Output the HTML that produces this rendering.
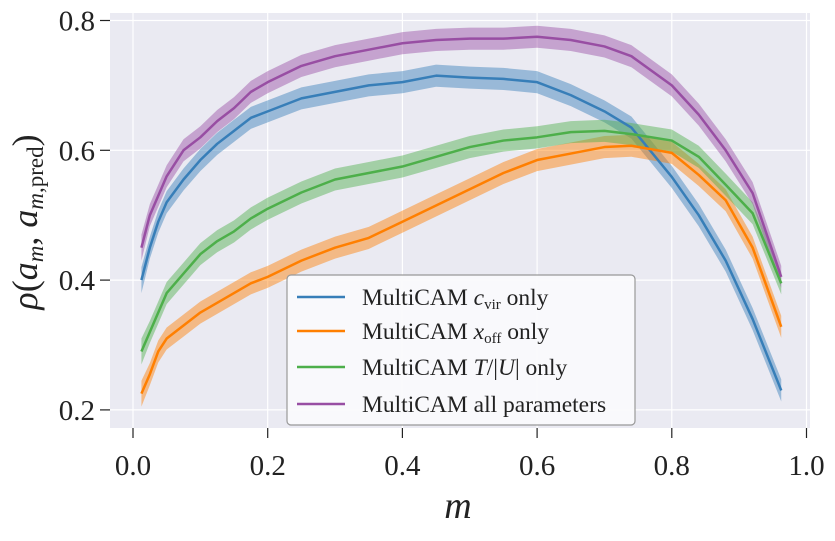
<!DOCTYPE html>
<html><head><meta charset="utf-8"><style>
html,body{margin:0;padding:0;background:#fff;}
svg text{font-family:"Liberation Serif","DejaVu Serif",serif;fill:#222;}
</style></head><body>
<svg id="chart" width="835" height="536" xmlns="http://www.w3.org/2000/svg">
<rect x="110" y="13" width="700" height="415" fill="#eaeaf2"/>
<g id="grid"></g>
<g id="bands"></g>
<g id="lines"></g>
<g id="axes"></g>
<text x="458" y="518" font-size="38" font-style="italic" text-anchor="middle">m</text>
<text transform="translate(37,222) rotate(-90)" font-size="36" text-anchor="middle"><tspan font-style="italic">ρ</tspan>(<tspan font-style="italic">a</tspan><tspan font-size="23" font-style="italic" dy="6">m</tspan><tspan dy="-6">, </tspan><tspan font-style="italic">a</tspan><tspan font-size="23" dy="6"><tspan font-style="italic">m</tspan>,pred</tspan><tspan dy="-6">)</tspan></text>
<g>
<rect x="287" y="275" width="348" height="150" rx="4" fill="#fafafc" fill-opacity="0.95" stroke="#999" stroke-width="1.2"/>
<line x1="297" y1="297" x2="345" y2="297" stroke="#377eb8" stroke-width="2.5"/>
<text x="362" y="305" font-size="23.5">MultiCAM <tspan font-style="italic">c</tspan><tspan font-size="15" dy="4">vir</tspan><tspan dy="-4"> only</tspan></text>
<line x1="297" y1="331" x2="345" y2="331" stroke="#ff7f00" stroke-width="2.5"/>
<text x="362" y="339" font-size="23.5">MultiCAM <tspan font-style="italic">x</tspan><tspan font-size="15" dy="4">off</tspan><tspan dy="-4"> only</tspan></text>
<line x1="297" y1="367" x2="345" y2="367" stroke="#4daf4a" stroke-width="2.5"/>
<text x="362" y="375" font-size="23.5">MultiCAM <tspan font-style="italic">T</tspan>/|<tspan font-style="italic">U</tspan>| only</text>
<line x1="297" y1="404" x2="345" y2="404" stroke="#984ea3" stroke-width="2.5"/>
<text x="362" y="412" font-size="23.5">MultiCAM all parameters</text>
</g>
</svg>
<script>
const mValues=[0.0125,0.025,0.0375,0.05,0.075,0.1,0.125,0.15,0.175,0.2,0.25,0.3,0.35,0.4,0.45,0.5,0.55,0.6,0.65,0.7,0.74,0.8,0.84,0.88,0.92,0.9625];
const cvirOnly=[0.40,0.45,0.49,0.52,0.555,0.585,0.61,0.63,0.65,0.66,0.68,0.69,0.70,0.705,0.715,0.712,0.71,0.705,0.685,0.66,0.635,0.559,0.5,0.43,0.34,0.23];
const xoffOnly=[0.225,0.255,0.29,0.31,0.33,0.35,0.365,0.38,0.395,0.405,0.43,0.45,0.465,0.49,0.515,0.54,0.565,0.585,0.595,0.605,0.607,0.596,0.562,0.523,0.45,0.328];
const tuOnly=[0.29,0.32,0.35,0.38,0.41,0.44,0.46,0.475,0.495,0.51,0.535,0.555,0.565,0.575,0.59,0.605,0.615,0.62,0.628,0.63,0.625,0.615,0.59,0.547,0.503,0.395];
const allParams=[0.45,0.5,0.53,0.56,0.6,0.62,0.645,0.665,0.69,0.705,0.73,0.745,0.755,0.765,0.77,0.772,0.772,0.775,0.77,0.76,0.745,0.70,0.655,0.6,0.534,0.405];
const bandHalfWidth=[0.02,0.017,0.017,0.017,0.017,0.017,0.017,0.017,0.017,0.017,0.017,0.017,0.017,0.017,0.017,0.017,0.017,0.017,0.017,0.017,0.017,0.017,0.017,0.017,0.017,0.017];
const xTicks=[0,0.2,0.4,0.6,0.8,1.0];
const xTickLabels=["0.0","0.2","0.4","0.6","0.8","1.0"];
const yTicks=[0.2,0.4,0.6,0.8];
const yTickLabels=["0.2","0.4","0.6","0.8"];
const NS="http://www.w3.org/2000/svg";
const X=v=>133+v*673.5;
const Y=v=>20.5+(0.8-v)*649;
function mk(tag,attrs,parent){const e=document.createElementNS(NS,tag);for(const k in attrs)e.setAttribute(k,attrs[k]);parent.appendChild(e);return e;}
const grid=document.getElementById('grid'),axes=document.getElementById('axes');
xTicks.forEach((t,i)=>{
  const g=mk('line',{x1:X(t),x2:X(t),y1:13,y2:428,stroke:'#fff','stroke-width':1.2},grid);
  
  
  const tk=mk('line',{x1:X(t),x2:X(t),y1:428,y2:438,stroke:'#222','stroke-width':1.2},axes);
  
  
  const tx=mk('text',{x:X(t),y:475,'font-size':29,'text-anchor':'middle'},axes);
  tx.textContent=xTickLabels[i];
  
  
});
yTicks.forEach((t,i)=>{
  const g=mk('line',{x1:110,x2:810,y1:Y(t),y2:Y(t),stroke:'#fff','stroke-width':1.2},grid);
  
  
  const tk=mk('line',{x1:100,x2:110,y1:Y(t),y2:Y(t),stroke:'#222','stroke-width':1.2},axes);
  
  
  const tx=mk('text',{x:95,y:Y(t)+10,'font-size':29,'text-anchor':'end'},axes);
  tx.textContent=yTickLabels[i];
  
  
});
const series=[[cvirOnly,'#377eb8','cvir'],[xoffOnly,'#ff7f00','xoff'],[tuOnly,'#4daf4a','tu'],[allParams,'#984ea3','all']];
const bands=document.getElementById('bands'),lines=document.getElementById('lines');
series.forEach(([vals,col,nm])=>{
  let up=mValues.map((m,i)=>X(m)+','+Y(vals[i]+bandHalfWidth[i]));
  let dn=mValues.map((m,i)=>X(m)+','+Y(vals[i]-bandHalfWidth[i])).reverse();
  const b=mk('polygon',{points:up.concat(dn).join(' '),fill:col,'fill-opacity':0.45},bands);
  
  
  const l=mk('polyline',{points:mValues.map((m,i)=>X(m)+','+Y(vals[i])).join(' '),fill:'none',stroke:col,'stroke-width':2.5,'stroke-linejoin':'round'},lines);
  
  
});
</script>
</body></html>
